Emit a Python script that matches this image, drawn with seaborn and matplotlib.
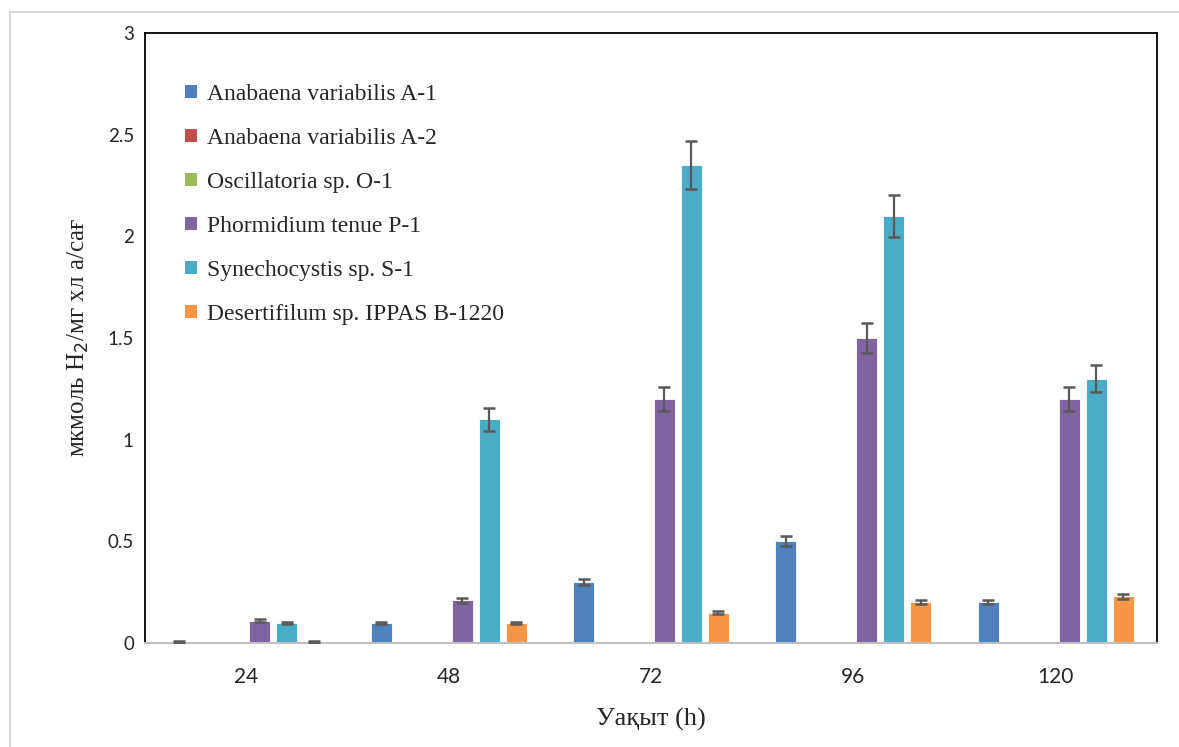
import matplotlib
matplotlib.use("Agg")
import matplotlib.pyplot as plt
import matplotlib.patches as mpatches
import numpy as np
import pandas as pd
import seaborn as sns

# Hydrogen production by strain over time
hours = ["24", "48", "72", "96", "120"]
strains = [
    "Anabaena variabilis A-1",
    "Anabaena variabilis A-2",
    "Oscillatoria sp. O-1",
    "Phormidium tenue P-1",
    "Synechocystis sp. S-1",
    "Desertifilum sp. IPPAS B-1220",
]
a1 = [0.005, 0.10, 0.30, 0.50, 0.20]
a2 = [0.002, 0.002, 0.002, 0.0, 0.0]
o1 = [0.0, 0.0, 0.0, 0.0, 0.0]
p1 = [0.11, 0.21, 1.20, 1.50, 1.20]
s1 = [0.10, 1.10, 2.35, 2.10, 1.30]
d1 = [0.005, 0.10, 0.15, 0.20, 0.23]

a1_err = [0.003, 0.005, 0.015, 0.025, 0.01]
a2_err = [0.0, 0.0, 0.0, 0.0, 0.0]
o1_err = [0.0, 0.0, 0.0, 0.0, 0.0]
p1_err = [0.006, 0.011, 0.06, 0.075, 0.06]
s1_err = [0.005, 0.055, 0.1175, 0.105, 0.065]
d1_err = [0.003, 0.005, 0.008, 0.01, 0.012]

values = [a1, a2, o1, p1, s1, d1]
errors = [a1_err, a2_err, o1_err, p1_err, s1_err, d1_err]
colors = ["#4F81BD", "#C0504D", "#9BBB59", "#8064A2", "#4BACC6", "#F79646"]

yticks = [0, 0.5, 1, 1.5, 2, 2.5, 3]
ytick_labels = ["0", "0.5", "1", "1.5", "2", "2.5", "3"]

rows = []
for name, vals in zip(strains, values):
    for h, v in zip(hours, vals):
        rows.append({"time": h, "strain": name, "value": v})
df = pd.DataFrame(rows)

sns.set_style("white")
plt.rcParams["font.family"] = ["Liberation Serif", "DejaVu Serif"]

fig = plt.figure(figsize=(11.79, 7.47), dpi=100)
ax = fig.add_axes([145 / 1179, 1 - 643 / 747, (1157 - 145) / 1179, (643 - 33) / 747])

sns.barplot(data=df, x="time", y="value", hue="strain", order=hours,
            hue_order=strains, palette=colors, width=0.8, gap=0.22,
            errorbar=None, saturation=1, linewidth=0.6, edgecolor="#FFFFFF",
            legend=False, ax=ax)

# error bars drawn on each bar's centre
for cont, errs in zip(ax.containers, errors):
    for bar, e in zip(cont, errs):
        if e <= 0:
            continue
        xc = bar.get_x() + bar.get_width() / 2
        ax.errorbar(xc, bar.get_height(), yerr=e, fmt="none", ecolor="#595959",
                    elinewidth=1.6, capsize=4.5, capthick=1.8, zorder=5)

ax.set_xlim(-0.5, len(hours) - 0.5)
ax.set_ylim(0, 3)
ax.set_yticks(yticks)
ax.set_yticklabels(ytick_labels, family="Lato", fontsize=13.5)
ax.tick_params(axis="y", length=0, pad=8)
ax.tick_params(axis="x", which="major", length=0, pad=17, labelsize=15)
for t in ax.get_xticklabels():
    t.set_family("Lato")
ax.set_xticks(np.arange(-0.5, len(hours), 1.0), minor=True)
ax.tick_params(axis="x", which="minor", length=10, width=1.2, color="#BFBFBF", direction="out")

for side in ["left", "top", "right"]:
    ax.spines[side].set_color("black")
    ax.spines[side].set_linewidth(1.3)
ax.spines["bottom"].set_color("#BFBFBF")
ax.spines["bottom"].set_linewidth(1.5)

ax.set_xlabel("Уақыт (h)", fontsize=19, labelpad=15)
ax.set_ylabel("мкмоль H$_2$/мг хл а/сағ", fontsize=18, labelpad=12)

handles = [mpatches.Patch(facecolor=c, edgecolor="none") for c in colors]
ax.legend(handles, strains, loc="upper left", bbox_to_anchor=(0.019, 0.951),
          frameon=False, fontsize=17, handlelength=0.5, handleheight=0.5,
          handletextpad=0.4, labelspacing=0.97)

# outer chart frame
frame = mpatches.Rectangle((10 / 1179, -0.05), 1.2, 1 - 12 / 747 + 0.05,
                           transform=fig.transFigure, fill=False,
                           edgecolor="#D9D9D9", linewidth=1.5)
fig.patches.append(frame)

fig.savefig("out.png", dpi=100, facecolor="white")
